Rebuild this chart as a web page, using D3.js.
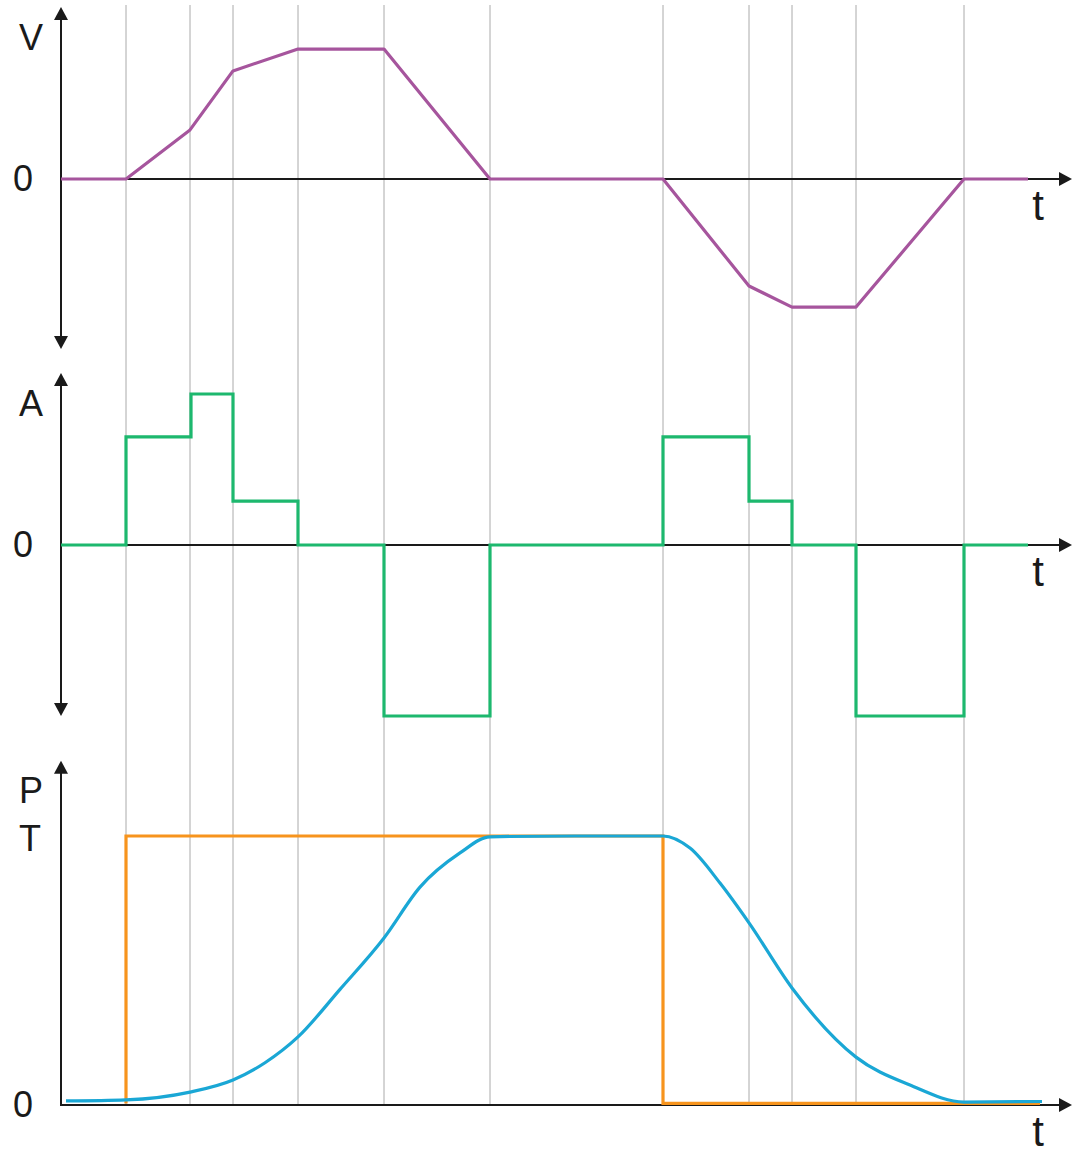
<!DOCTYPE html>
<html>
<head>
<meta charset="utf-8">
<script src="https://cdn.jsdelivr.net/npm/d3@7"></script>
<style>
    body { margin: 0; background: #fff; }
    svg { display: block; }
</style>
</head>
<body>
<div id="chart"></div>
<script>
// Motion profile: velocity, acceleration, position/trigger

// time of each vertical guide line
const gridTimes = [6.5, 12.9, 17.2, 23.7, 32.3, 42.9, 60.2, 68.8, 73.1, 79.5, 90.3];

// velocity
const velTime  = [0, 6.5, 12.9, 17.2, 23.7, 32.3, 42.9, 60.2, 68.8, 73.1, 79.5, 90.3, 96.7];
const velValue = [0, 0, 0.287, 0.632, 0.76, 0.76, 0, 0, -0.626, -0.749, -0.749, 0, 0];

// acceleration (step after each time)
const accTime  = [0, 6.5, 13.0, 17.2, 23.7, 32.3, 42.9, 60.2, 68.8, 73.1, 79.5, 90.3, 96.7];
const accValue = [0, 0.632, 0.883, 0.257, 0, -1, 0, 0.632, 0.257, 0, -1, 0, 0];

// trigger signal (T)
const trigTime  = [6.5, 6.5, 60.2, 60.2, 97.9];
const trigValue = [0.006, 1, 1, 0.006, 0.006];

// position (P)
const posTime  = [0.5, 6.5, 12.9, 17.2, 20.4, 23.7, 27.9, 32.3, 35.9, 39.9, 42.9, 51.4,
                  60.2, 62.9, 65.9, 68.8, 73.1, 79.5, 84.9, 90.3, 98.1];
const posValue = [0.015, 0.019, 0.048, 0.093, 0.157, 0.253, 0.43, 0.621, 0.81, 0.937, 0.997, 1.0,
                  1.0, 0.955, 0.825, 0.677, 0.435, 0.178, 0.074, 0.011, 0.013];

const width = 1085;
const height = 1151;
const axisColor = "#1a1a1a";
const font = "'Liberation Sans', Arial, Helvetica, sans-serif";

const svg = d3.select("#chart")
    .append("svg")
    .attr("width", width)
    .attr("height", height);

const x = d3.scaleLinear().domain([0, 101.1]).range([61, 1072]);
const yV = d3.scaleLinear().domain([-1, 1]).range([350, 8]);
const yA = d3.scaleLinear().domain([-1, 1]).range([716, 374]);
const yP = d3.scaleLinear().domain([0, 1]).range([1105, 836]);

// grid lines
svg.append("g")
    .selectAll("line")
    .data(gridTimes)
    .join("line")
    .attr("x1", d => x(d))
    .attr("x2", d => x(d))
    .attr("y1", 5)
    .attr("y2", yP(0))
    .attr("stroke", "#aaaaaa")
    .attr("stroke-width", 1);

// arrow head, tip at (px, py), pointing at angle (deg, 0 = right)
function arrow(g, px, py, angle) {
    g.append("path")
        .attr("d", "M0,0 L-13,-7 L-13,7 Z")
        .attr("transform", `translate(${px},${py}) rotate(${angle})`)
        .attr("fill", axisColor);
}

const axes = svg.append("g");

function axisLine(x1, y1, x2, y2) {
    axes.append("line")
        .attr("x1", x1).attr("y1", y1)
        .attr("x2", x2).attr("y2", y2)
        .attr("stroke", axisColor)
        .attr("stroke-width", 2);
}

// V panel axes
axisLine(x(0), yV(1) + 6, x(0), yV(-1) - 6);
arrow(axes, x(0), yV(1) - 1, -90);
arrow(axes, x(0), yV(-1) - 1, 90);
axisLine(x(0), yV(0), x.range()[1] - 6, yV(0));
arrow(axes, x.range()[1], yV(0), 0);

// A panel axes
axisLine(x(0), yA(1) + 6, x(0), yA(-1) - 6);
arrow(axes, x(0), yA(1) - 1, -90);
arrow(axes, x(0), yA(-1), 90);
axisLine(x(0), yA(0), x.range()[1] - 6, yA(0));
arrow(axes, x.range()[1], yA(0), 0);

// P panel axes
axisLine(x(0), yP(1.28) + 6, x(0), yP(0) + 1);
arrow(axes, x(0), yP(1.28), -90);
axisLine(x(0) - 1, yP(0), x.range()[1] - 6, yP(0));
arrow(axes, x.range()[1], yP(0), 0);

// zero labels
[yV, yA, yP].forEach(scale => {
    const g = svg.append("g")
        .attr("transform", `translate(${x(0)},0)`)
        .call(d3.axisLeft(scale).tickValues([0]).tickSize(0).tickPadding(28).tickFormat(d3.format("d")));
    g.select(".domain").remove();
    g.attr("font-size", 36).attr("font-family", font);
    g.selectAll("text").attr("fill", axisColor);
});

// axis titles
const titles = [
    { text: "V", x: 31, y: 50 },
    { text: "A", x: 31, y: 416 },
    { text: "P", x: 31, y: 803 },
    { text: "T", x: 30, y: 851 }
];
svg.append("g")
    .selectAll("text")
    .data(titles)
    .join("text")
    .attr("x", d => d.x)
    .attr("y", d => d.y)
    .attr("text-anchor", "middle")
    .attr("font-family", font)
    .attr("font-size", 36)
    .attr("fill", axisColor)
    .text(d => d.text);

svg.append("g")
    .selectAll("text")
    .data([yV(0), yA(0), yP(0)])
    .join("text")
    .attr("x", 1038)
    .attr("y", d => d + 41)
    .attr("text-anchor", "middle")
    .attr("font-family", font)
    .attr("font-size", 42)
    .attr("fill", axisColor)
    .text("t");

// curves
const velLine = d3.line()
    .x((d, i) => x(velTime[i]))
    .y(d => yV(d));

svg.append("path")
    .attr("d", velLine(velValue))
    .attr("fill", "none")
    .attr("stroke", "#a6559d")
    .attr("stroke-width", 3.2)
    .attr("stroke-linejoin", "round");

const accLine = d3.line()
    .x((d, i) => x(accTime[i]))
    .y(d => yA(d))
    .curve(d3.curveStepAfter);

svg.append("path")
    .attr("d", accLine(accValue))
    .attr("fill", "none")
    .attr("stroke", "#1db86e")
    .attr("stroke-width", 3.2);

const trigLine = d3.line()
    .x((d, i) => x(trigTime[i]))
    .y(d => yP(d));

svg.append("path")
    .attr("d", trigLine(trigValue))
    .attr("fill", "none")
    .attr("stroke", "#f7941d")
    .attr("stroke-width", 3.2);

const posLine = d3.line()
    .x((d, i) => x(posTime[i]))
    .y(d => yP(d))
    .curve(d3.curveMonotoneX);

svg.append("path")
    .attr("d", posLine(posValue))
    .attr("fill", "none")
    .attr("stroke", "#1aa7d5")
    .attr("stroke-width", 3.2);
</script>
</body>
</html>
